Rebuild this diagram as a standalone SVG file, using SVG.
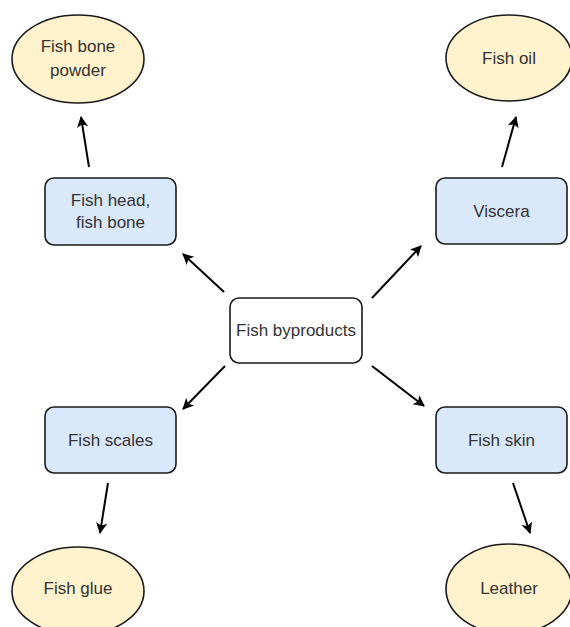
<svg xmlns="http://www.w3.org/2000/svg" width="570" height="627" viewBox="0 0 570 627">
<style>
.box{fill:#dae8fc;stroke:#1a1a1a;stroke-width:1.6}
.center{fill:#ffffff;stroke:#1a1a1a;stroke-width:1.6}
.oval{fill:#fff2cc;stroke:#1a1a1a;stroke-width:1.6}
.t{font-family:"Liberation Sans",Arial,sans-serif;font-size:17px;fill:#333333;text-anchor:middle}
.edge{stroke:#000;stroke-width:2;fill:none;marker-end:url(#ah)}
</style>
<defs>
<marker id="ah" viewBox="0 0 10 10" refX="9" refY="5" markerWidth="7" markerHeight="7" markerUnits="userSpaceOnUse" orient="auto" overflow="visible">
<path d="M0,0 L10,5 L0,10 L2.5,5 Z" fill="#000" transform="scale(1.6) translate(-3.5,-1.9)"/>
</marker>
</defs>
<rect width="570" height="627" fill="#ffffff"/>
<g id="edges">
<line class="edge" x1="224" y1="292" x2="183" y2="254"/>
<line class="edge" x1="372" y1="298" x2="421" y2="246"/>
<line class="edge" x1="225" y1="366" x2="183" y2="409"/>
<line class="edge" x1="372" y1="366" x2="424" y2="406"/>
<line class="edge" x1="89" y1="167" x2="81" y2="117"/>
<line class="edge" x1="502" y1="167" x2="516" y2="117"/>
<line class="edge" x1="108" y1="483" x2="100" y2="533"/>
<line class="edge" x1="513" y1="483" x2="530" y2="533"/>
</g>
<g id="center"><rect class="center" x="230" y="298" width="132" height="65" rx="9"/><text class="t" x="296" y="336">Fish byproducts</text></g>
<g id="head"><rect class="box" x="45" y="178" width="131" height="67" rx="9"/><text class="t" x="110.5" y="206">Fish head,</text><text class="t" x="110.5" y="228">fish bone</text></g>
<g id="viscera"><rect class="box" x="436" y="178" width="131" height="66" rx="9"/><text class="t" x="501.5" y="217">Viscera</text></g>
<g id="scales"><rect class="box" x="45" y="407" width="131" height="66" rx="9"/><text class="t" x="110.5" y="446">Fish scales</text></g>
<g id="skin"><rect class="box" x="436" y="407" width="131" height="66" rx="9"/><text class="t" x="501.5" y="446">Fish skin</text></g>
<g id="powder"><ellipse class="oval" cx="78" cy="59" rx="66" ry="44"/><text class="t" x="78" y="52">Fish bone</text><text class="t" x="78" y="76">powder</text></g>
<g id="oil"><ellipse class="oval" cx="509" cy="58" rx="63" ry="43"/><text class="t" x="509" y="64">Fish oil</text></g>
<g id="glue"><ellipse class="oval" cx="78" cy="591" rx="66" ry="44"/><text class="t" x="78" y="594">Fish glue</text></g>
<g id="leather"><ellipse class="oval" cx="509" cy="589" rx="63" ry="45"/><text class="t" x="509" y="594">Leather</text></g>
</svg>
